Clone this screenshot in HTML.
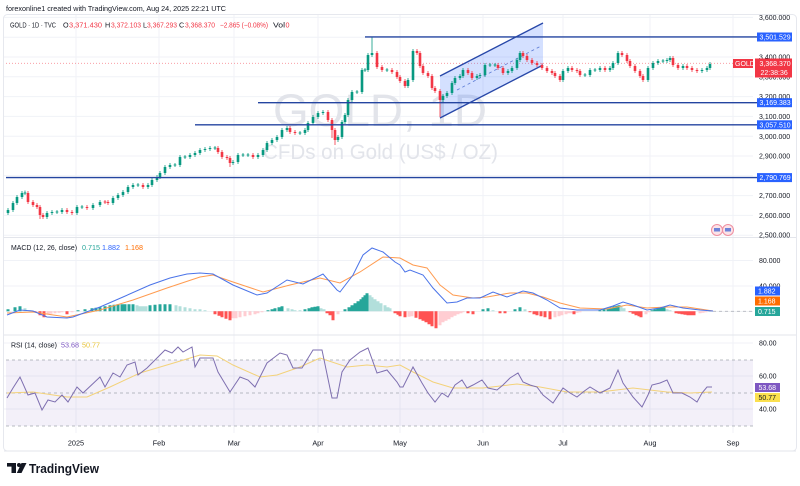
<!DOCTYPE html>
<html><head><meta charset="utf-8">
<style>
html,body{margin:0;padding:0;background:#fff;}
svg{display:block;font-family:"Liberation Sans",Arial,sans-serif;}
</style></head>
<body>
<svg width="800" height="486" viewBox="0 0 800 486" xmlns="http://www.w3.org/2000/svg">
<rect width="800" height="486" fill="#fff"/>
<rect x="3.5" y="14.5" width="793" height="436.5" rx="4" fill="none" stroke="#e6e8ee" stroke-width="1"/>
<g stroke="#f0f2f7" stroke-width="1">
<line x1="76" y1="15" x2="76" y2="433"/><line x1="159" y1="15" x2="159" y2="433"/>
<line x1="234" y1="15" x2="234" y2="433"/><line x1="318" y1="15" x2="318" y2="433"/>
<line x1="400" y1="15" x2="400" y2="433"/><line x1="483" y1="15" x2="483" y2="433"/>
<line x1="563" y1="15" x2="563" y2="433"/><line x1="650" y1="15" x2="650" y2="433"/>
<line x1="733" y1="15" x2="733" y2="433"/>
</g>
<g stroke="#f0f2f7" stroke-width="1">
<line x1="4" y1="17.4" x2="753" y2="17.4"/><line x1="4" y1="37.2" x2="753" y2="37.2"/>
<line x1="4" y1="57" x2="753" y2="57"/><line x1="4" y1="76.8" x2="753" y2="76.8"/>
<line x1="4" y1="96.6" x2="753" y2="96.6"/><line x1="4" y1="116.4" x2="753" y2="116.4"/>
<line x1="4" y1="136.2" x2="753" y2="136.2"/><line x1="4" y1="156" x2="753" y2="156"/>
<line x1="4" y1="175.8" x2="753" y2="175.8"/><line x1="4" y1="195.6" x2="753" y2="195.6"/>
<line x1="4" y1="215.4" x2="753" y2="215.4"/><line x1="4" y1="235.2" x2="753" y2="235.2"/>
<line x1="4" y1="260.5" x2="753" y2="260.5"/><line x1="4" y1="286" x2="753" y2="286"/>
<line x1="4" y1="343" x2="753" y2="343"/><line x1="4" y1="376" x2="753" y2="376"/><line x1="4" y1="409" x2="753" y2="409"/>
</g>
<line x1="4" y1="237.5" x2="796" y2="237.5" stroke="#e3e5eb" stroke-width="1"/>
<line x1="4" y1="335" x2="796" y2="335" stroke="#e3e5eb" stroke-width="1"/>

<text x="6" y="11" font-size="7.3" fill="#131722" textLength="220" lengthAdjust="spacingAndGlyphs">forexonline1 created with TradingView.com, Aug 24, 2025 22:21 UTC</text>
<g font-size="7.2">
<text x="10" y="27.5" fill="#131722" textLength="46" lengthAdjust="spacingAndGlyphs">GOLD · 1D · TVC</text>
<text x="63" y="27.5" fill="#131722">O</text><text x="69" y="27.5" fill="#f23645" textLength="33" lengthAdjust="spacingAndGlyphs">3,371.430</text>
<text x="105" y="27.5" fill="#131722">H</text><text x="111" y="27.5" fill="#f23645" textLength="30" lengthAdjust="spacingAndGlyphs">3,372.103</text>
<text x="143" y="27.5" fill="#131722">L</text><text x="147" y="27.5" fill="#f23645" textLength="30" lengthAdjust="spacingAndGlyphs">3,367.293</text>
<text x="179" y="27.5" fill="#131722">C</text><text x="185" y="27.5" fill="#f23645" textLength="30" lengthAdjust="spacingAndGlyphs">3,368.370</text>
<text x="220" y="27.5" fill="#f23645" textLength="48" lengthAdjust="spacingAndGlyphs">−2.865 (−0.08%)</text>
<text x="273" y="27.5" fill="#131722" textLength="12" lengthAdjust="spacingAndGlyphs">Vol</text><text x="285.5" y="27.5" fill="#f23645">0</text>
</g>

<text x="273" y="126" font-size="45" fill="#e2e4ea" textLength="214" lengthAdjust="spacingAndGlyphs">GOLD, 1D</text>
<text x="263" y="159" font-size="21" fill="#e2e4ea" textLength="235" lengthAdjust="spacingAndGlyphs">CFDs on Gold (US$ / OZ)</text>

<line x1="6" y1="63.3" x2="753" y2="63.3" stroke="#f23645" stroke-opacity="0.55" stroke-width="0.8" stroke-dasharray="1 2"/>

<polygon points="440,76 543,23 543,65 440,118" fill="#2962ff" fill-opacity="0.2"/>
<line x1="440" y1="76" x2="543" y2="23" stroke="#2747a8" stroke-width="1.3"/>
<line x1="440" y1="118" x2="543" y2="65" stroke="#2747a8" stroke-width="1.3"/>
<line x1="457" y1="90" x2="541" y2="46" stroke="#5b7bd5" stroke-width="0.8" stroke-dasharray="3 3"/>

<!-- candles: wicks -->
<path fill="none" stroke="#089981" stroke-width="0.8" d="M8 208V215M13 201V212M17 195V205M22 191V199M25 190.5V195M47 211V219M52 210V215M57 210V214M62 208V214M77 205V215M82 205V209M93 203V210M100 200V207M113 196V205M118 193V200M123 190V197M128 185V194M133 183V189M138 183V187M148 183V189M152 178V187M157 175V182M160 171V179M165 165V175M170 163V169M175 163V167M180 155V167M185 155V159M190 153V159M195 151V157M200 148V155M205 147V152M210 146V151M215 146V150M233 160V165M238 153V164M243 153V157M248 153V157M258 153V159M263 148V157M267 141V152M272 138V145M277 135V142M282 128V139M287 126V132M300 131V135M305 128V135M308 121V132M313 115V125M318 111V119M323 110V115M338 135V142M342 120V139M345 113V124M348 98V117M352 90V102M357 90V94M362 68V94M365 68V72M368 53V72M372 37V57M387 68V72M408 78V88M413 49V82M443 94V102M447 91V98M452 81V95M455 76V85M460 74V80M463 68V78M477 74V80M480 73V78M485 63V77M490 63V67M495 63V67M508 69V75M512 66V73M517 58V70M520 51V62M563 69V82M568 66V73M585 73V77M590 68V77M595 68V72M600 66V72M610 66V72M613 61V70M618 51V65M648 66V82M653 61V70M658 59V65M663 59V63M667 58V63M670 56V62M683 64V70M702 68V73M707 66V72M710 62V70"/>
<path fill="none" stroke="#f23645" stroke-width="0.8" d="M28 191V204M33 200V207M37 203V209M40 205V219M43 213V219M67 208V214M72 210V215M87 205V210M105 200V204M108 200V205M143 183V189M218 146V154M222 150V159M227 155V160M230 156V167M253 153V159M290 126V134M295 130V135M328 110V122M332 118V138M335 128V145M377 51V69M382 65V72M392 68V74M397 70V79M400 75V83M405 79V88M417 49V55M420 51V68M423 64V75M428 71V78M432 74V90M435 86V93M440 89V117M468 68V75M472 71V80M498 63V70M503 66V75M523 51V58M527 54V62M532 58V65M537 61V67M542 63V70M547 66V73M552 69V75M555 71V78M560 74V82M572 66V72M577 68V73M580 69V77M605 66V72M622 51V57M627 53V63M630 59V68M635 64V73M640 69V78M643 74V82M673 56V67M678 63V70M687 64V70M692 66V72M697 68V73"/>
<!-- candles: bodies -->
<path fill="none" stroke="#089981" stroke-width="2.6" d="M8 210V213M13 203V210M17 197V203M22 193V197M25 192.5V193.5M47 213V217M52 212V213M57 211.5V212.5M62 210V212M77 207V213M82 206.5V207.5M93 205V208M100 202V205M113 198V203M118 195V198M123 192V195M128 187V192M133 185V187M138 184.5V185.5M148 185V187M152 180V185M157 177V180M160 173V177M165 167V173M170 165V167M175 164.5V165.5M180 157V165M185 156.5V157.5M190 155V157M195 153V155M200 150V153M205 149V150M210 148V149M215 147.5V148.5M233 162V163M238 155V162M243 154.5V155.5M248 154.5V155.5M258 155V157M263 150V155M267 143V150M272 140V143M277 137V140M282 130V137M287 128V130M300 132.5V133.5M305 130V133M308 123V130M313 117V123M318 113V117M323 112V113M338 137V140M342 122V137M345 115V122M348 100V115M352 92V100M357 91.5V92.5M362 70V92M365 69.5V70.5M368 55V70M372 53V55M387 69.5V70.5M408 80V86M413 51V80M443 96V100M447 93V96M452 83V93M455 78V83M460 76V78M463 70V76M477 76V78M480 75V76M485 65V75M490 64.5V65.5M495 64.5V65.5M508 71V73M512 68V71M517 60V68M520 53V60M563 71V80M568 68V71M585 74.5V75.5M590 70V75M595 69.5V70.5M600 68V70M610 68V70M613 63V68M618 53V63M648 68V80M653 63V68M658 61V63M663 60.5V61.5M667 60V61M670 58V60M683 66V68M702 70V71M707 68V70M710 64V68"/>
<path fill="none" stroke="#f23645" stroke-width="2.6" d="M28 193V202M33 202V205M37 205V207M40 207V215M43 215V217M67 210V212M72 212V213M87 207V208M105 201.5V202.5M108 202V203M143 185V187M218 148V152M222 152V157M227 157V158M230 158V163M253 155V157M290 128V132M295 132V133M328 112V120M332 120V130M335 130V140M377 53V67M382 67V70M392 70V72M397 72V77M400 77V81M405 81V86M417 51V53M420 53V66M423 66V73M428 73V76M432 76V88M435 88V91M440 91V100M468 70V73M472 73V78M498 65V68M503 68V73M523 53V56M527 56V60M532 60V63M537 63V65M542 65V68M547 68V71M552 71V73M555 73V76M560 76V80M572 68V70M577 70V71M580 71V75M605 68V70M622 53V55M627 55V61M630 61V66M635 66V71M640 71V76M643 76V80M673 58V65M678 65V68M687 66V68M692 68V70M697 70V71"/>

<g stroke="#2445a0" stroke-width="1.4">
<line x1="365" y1="36.9" x2="757" y2="36.9"/>
<line x1="258" y1="102.7" x2="757" y2="102.7"/>
<line x1="195" y1="124.8" x2="757" y2="124.8"/>
<line x1="6" y1="177.6" x2="757" y2="177.6"/>
</g>

<g font-size="7" fill="#131722">
<text x="759" y="20">3,600.000</text>
<text x="759" y="59.5">3,400.000</text>
<text x="759" y="79.5">3,300.000</text>
<text x="759" y="99">3,200.000</text>
<text x="759" y="119">3,100.000</text>
<text x="759" y="139">3,000.000</text>
<text x="759" y="158.5">2,900.000</text>
<text x="759" y="198">2,700.000</text>
<text x="759" y="218">2,600.000</text>
<text x="759" y="237.5">2,500.000</text>
</g>
<g font-size="7" fill="#fff">
<rect x="757" y="32.5" width="35" height="9" fill="#2962ff"/><text x="759.5" y="39.5">3,501.529</text>
<rect x="757" y="98.2" width="35" height="9" fill="#2962ff"/><text x="759.5" y="105.2">3,169.383</text>
<rect x="757" y="120.3" width="35" height="9" fill="#2962ff"/><text x="759.5" y="127.3">3,057.510</text>
<rect x="757" y="173.1" width="35" height="9" fill="#2962ff"/><text x="759.5" y="180.1">2,790.769</text>
<rect x="733" y="59" width="20" height="9" fill="#f23645"/><text x="735" y="66">GOLD</text>
<rect x="755" y="58.5" width="37" height="19" fill="#f23645"/>
<text x="759.5" y="66">3,368.370</text><text x="760.5" y="75">22:38:36</text>
</g>

<g>
<circle cx="717" cy="230" r="5.5" fill="#fbe3e8" stroke="#ef8fa0" stroke-width="1"/>
<circle cx="728" cy="230" r="5.5" fill="#fbe3e8" stroke="#ef8fa0" stroke-width="1"/>
<rect x="714" y="228" width="6" height="3.5" fill="#6d83d8"/>
<rect x="725" y="228" width="6" height="3.5" fill="#6d83d8"/>
</g>

<!-- MACD -->
<g font-size="7.2">
<text x="11" y="250" fill="#131722" textLength="66" lengthAdjust="spacingAndGlyphs">MACD (12, 26, close)</text>
<text x="82" y="250" fill="#26a69a">0.715</text>
<text x="102" y="250" fill="#2962ff">1.882</text>
<text x="125" y="250" fill="#ff6d00">1.168</text>
</g>
<line x1="6" y1="311.3" x2="753" y2="311.3" stroke="#e8e9ee" stroke-width="0.6"/>
<line x1="713" y1="311.3" x2="753" y2="311.3" stroke="#b2b5be" stroke-width="0.8" stroke-dasharray="3 3"/>
<path fill="none" stroke="#26a69a" stroke-width="3" d="M8 311.3V309.3M15 311.3V307.3M20 311.3V306.3M78 311.3V310.3M85 311.3V309.3M92 311.3V308.3M96 311.3V307.8M100 311.3V307.3M105 311.3V306.3M110 311.3V305.3M114 311.3V304.8M118 311.3V304.3M122 311.3V304.3M125 311.3V304.3M129 311.3V304.3M133 311.3V304.3M150 311.3V305.3M155 311.3V304.8M160 311.3V304.3M165 311.3V304.3M170 311.3V304.3M268 311.3V310.3M272 311.3V309.3M275 311.3V308.3M279 311.3V307.3M282 311.3V306.3M305 311.3V309.3M309 311.3V308.3M312 311.3V307.3M315 311.3V306.8M318 311.3V306.3M345 311.3V309.3M349 311.3V307.3M352 311.3V305.3M355 311.3V303.3M358 311.3V301.3M361 311.3V299.3M363 311.3V297.3M365 311.3V295.3M367 311.3V293.3M483 311.3V309.3M488 311.3V308.3M515 311.3V309.3M520 311.3V307.3M600 311.3V310.3M604 311.3V309.3M608 311.3V308.3M611 311.3V307.3M614 311.3V306.3M617 311.3V305.8M619 311.3V305.3M652 311.3V310.3M655 311.3V309.3M658 311.3V308.3M661 311.3V307.8M664 311.3V307.3M710 311.3V310.8"/>
<path fill="none" stroke="#b2dfdb" stroke-width="3" d="M25 311.3V308.3M30 311.3V310.3M137 311.3V305.3M140 311.3V306.3M143 311.3V306.3M146 311.3V306.3M176 311.3V305.3M180 311.3V306.3M185 311.3V307.3M190 311.3V308.3M195 311.3V309.3M200 311.3V309.3M205 311.3V310.3M288 311.3V308.3M292 311.3V309.3M295 311.3V310.3M300 311.3V310.3M321 311.3V308.3M324 311.3V309.3M370 311.3V295.3M372 311.3V297.3M375 311.3V299.3M378 311.3V301.3M381 311.3V303.3M385 311.3V305.3M388 311.3V307.3M390 311.3V308.3M493 311.3V310.3M525 311.3V309.3M621 311.3V306.3M624 311.3V308.3M667 311.3V309.3M670 311.3V310.3"/>
<path fill="none" stroke="#ff5252" stroke-width="3" d="M35 311.3V312.3M40 311.3V315.3M44 311.3V317.3M67 311.3V314.3M215 311.3V314.3M219 311.3V315.8M222 311.3V317.3M226 311.3V318.8M230 311.3V320.3M327 311.3V313.3M330 311.3V315.3M333 311.3V320.3M395 311.3V313.3M398 311.3V314.8M400 311.3V316.3M405 311.3V317.3M416 311.3V317.8M420 311.3V319.3M423 311.3V320.8M426 311.3V322.3M429 311.3V324.3M432 311.3V326.3M436 311.3V328.3M468 311.3V313.3M473 311.3V314.3M500 311.3V313.3M505 311.3V313.3M530 311.3V312.3M534 311.3V314.3M537 311.3V315.3M541 311.3V316.3M545 311.3V317.3M550 311.3V319.3M574 311.3V314.3M630 311.3V312.3M633 311.3V313.8M636 311.3V315.3M639 311.3V316.3M641 311.3V317.3M676 311.3V313.3M679 311.3V313.8M682 311.3V314.3M685 311.3V314.8M688 311.3V315.3M691 311.3V315.3M694 311.3V315.3"/>
<path fill="none" stroke="#ffcdd2" stroke-width="3" d="M48 311.3V314.3M51 311.3V313.8M55 311.3V313.3M59 311.3V312.8M62 311.3V312.3M72 311.3V312.3M233 311.3V318.3M236 311.3V318.3M240 311.3V317.3M245 311.3V316.3M250 311.3V315.3M255 311.3V314.3M258 311.3V313.3M262 311.3V312.3M338 311.3V314.3M409 311.3V316.8M412 311.3V316.3M440 311.3V325.3M443 311.3V322.3M446 311.3V320.8M449 311.3V319.3M452 311.3V317.3M455 311.3V315.8M458 311.3V314.3M461 311.3V313.3M463 311.3V312.3M555 311.3V317.3M559 311.3V316.3M562 311.3V315.3M566 311.3V314.3M568 311.3V313.3M571 311.3V313.3M577 311.3V312.8M580 311.3V312.3M646 311.3V314.3M649 311.3V312.3M700 311.3V313.3M703 311.3V312.8M706 311.3V312.3"/>
<polyline fill="none" stroke="#ff9b50" stroke-width="1" points="7,313 33,312 67,317 100,310 133,300 167,288 200,277 213,275 233,282 263,292 290,285 320,278 340,283 360,272 383,257 400,258 413,265 427,268 440,285 453,295 473,298 487,297 510,293 527,293 543,297 560,303 580,308 607,309 627,305 647,308 667,307 687,307 713,311"/>
<polyline fill="none" stroke="#4a73e8" stroke-width="1" points="7,315 20,310 33,311 47,317 67,318 73,317 100,307 123,297 150,285 170,278 187,274 200,273 213,274 233,285 257,295 267,293 287,280 303,284 323,274 337,290 340,292 353,275 363,255 372,248 383,252 395,262 400,265 405,272 410,270 423,275 433,288 447,303 457,302 467,298 480,298 493,292 507,297 523,291 533,293 547,300 560,308 577,310 600,310 613,306 623,302 633,305 647,310 660,308 670,305 683,308 700,310 713,311"/>
<g font-size="7">
<text x="759" y="263" fill="#131722">80.000</text>
<text x="759" y="288.5" fill="#131722">40.000</text>
<rect x="755" y="286.5" width="25" height="9" fill="#2962ff"/><text x="758" y="293.5" fill="#fff">1.882</text>
<rect x="755" y="296.5" width="25" height="9" fill="#ff6d00"/><text x="758" y="303.5" fill="#fff">1.168</text>
<rect x="755" y="307" width="25" height="9" fill="#26a69a"/><text x="758" y="314" fill="#fff">0.715</text>
</g>

<!-- RSI -->
<rect x="6" y="360" width="747" height="66" fill="#7e57c2" fill-opacity="0.09"/>
<g stroke="#a3a6af" stroke-width="0.8" stroke-dasharray="3 3">
<line x1="6" y1="360" x2="753" y2="360"/><line x1="6" y1="393" x2="753" y2="393"/><line x1="6" y1="426" x2="753" y2="426"/>
</g>
<g font-size="7.2">
<text x="11" y="347.5" fill="#131722" textLength="46" lengthAdjust="spacingAndGlyphs">RSI (14, close)</text>
<text x="61" y="347.5" fill="#7e57c2">53.68</text>
<text x="82" y="347.5" fill="#e8c53a">50.77</text>
</g>
<polyline fill="none" stroke="#f3d27a" stroke-width="1" points="7,393 33,392 67,397 87,397 110,387 140,373 177,362 200,355 217,356 233,365 260,377 277,375 300,367 320,358 347,367 367,365 387,367 400,365 413,372 433,382 453,388 483,388 517,384 540,387 567,392 600,392 633,388 667,392 690,393 712,392"/>
<polyline fill="none" stroke="#7e6fb0" stroke-width="1" points="7,398 13,388 20,377 28,395 35,393 42,410 48,400 55,402 62,395 68,402 77,387 83,393 100,377 105,387 113,373 120,377 127,365 135,362 138,375 147,368 153,362 165,350 172,353 178,347 183,352 192,347 195,367 200,358 213,358 218,372 230,392 240,377 248,380 255,387 267,363 280,353 287,355 293,368 302,368 313,350 322,350 332,398 337,398 342,372 350,360 360,352 368,348 377,373 387,370 397,382 400,387 403,387 413,367 422,383 428,393 435,402 442,393 448,397 455,385 462,380 467,388 473,385 482,380 488,388 497,390 503,385 510,378 518,373 523,382 530,385 537,387 543,395 553,403 563,388 570,393 577,397 583,392 590,387 600,393 610,388 618,370 623,383 633,397 642,407 648,395 652,385 660,383 667,380 673,393 682,393 690,397 697,402 702,393 707,387 712,387"/>
<g font-size="7">
<text x="759" y="345.5" fill="#131722">80.00</text>
<text x="759" y="378.5" fill="#131722">60.00</text>
<text x="759" y="411.5" fill="#131722">40.00</text>
<rect x="755" y="383" width="25" height="9" fill="#7e57c2"/><text x="758.5" y="390" fill="#fff">53.68</text>
<rect x="755" y="393" width="25" height="9" fill="#fbe04f"/><text x="758.5" y="400" fill="#131722">50.77</text>
</g>

<line x1="4" y1="451" x2="796" y2="451" stroke="#e3e5eb" stroke-width="1"/>
<g font-size="7.3" fill="#131722" text-anchor="middle">
<text x="76" y="445.5">2025</text><text x="159" y="445.5">Feb</text><text x="234" y="445.5">Mar</text>
<text x="318" y="445.5">Apr</text><text x="400" y="445.5">May</text><text x="483" y="445.5">Jun</text>
<text x="563" y="445.5">Jul</text><text x="650" y="445.5">Aug</text><text x="733" y="445.5">Sep</text>
</g>

<g fill="#131722">
<rect x="7" y="463" width="9" height="3.6"/>
<rect x="11.5" y="463" width="4.5" height="10"/>
<circle cx="19" cy="465" r="2"/>
<polygon points="21.5,463 26.5,463 21.5,473 16.8,473"/>
<text x="29" y="473" font-size="13" font-weight="bold" textLength="70" lengthAdjust="spacingAndGlyphs">TradingView</text>
</g>
</svg>
</body></html>
